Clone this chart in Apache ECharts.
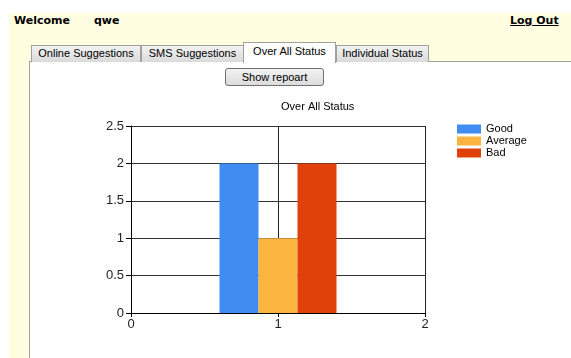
<!DOCTYPE html>
<html>
<head>
<meta charset="utf-8">
<script src="https://cdn.jsdelivr.net/npm/echarts@6/dist/echarts.min.js"></script>
<style>
  body { margin: 0; width: 571px; height: 358px; overflow: hidden; background: #fff; position: relative; font-family: "Liberation Sans", Arial, sans-serif; }
  .page { position: absolute; left: 9px; top: 13px; width: 562px; height: 345px; background: #fffee0; }
  .welcome { position: absolute; top: 14px; font: bold 11px "DejaVu Sans", Verdana, sans-serif; color: #000; }
  .logout { position: absolute; left: 510px; top: 14px; font: bold 11px "DejaVu Sans", Verdana, sans-serif; color: #000; text-decoration: underline; }
  .panel { position: absolute; left: 29px; top: 61px; width: 542px; height: 297px; background: #fff; border-left: 1px solid #a0a0a0; border-top: 1px solid #a0a0a0; box-sizing: border-box; }
  .tab { position: absolute; top: 45px; height: 17px; box-sizing: border-box; border: 1px solid #a0a0a0; border-bottom: none; background: linear-gradient(#f2f2f2, #dadada); font-size: 11px; line-height: 15px; text-align: center; color: #000; }
  .tab.sel { top: 42px; height: 21px; background: #fff; line-height: 17px; z-index: 2; }
  .btn { position: absolute; left: 225px; top: 68px; width: 99px; height: 18px; box-sizing: border-box; border: 1px solid #707070; border-radius: 3px; background: linear-gradient(#f2f2f2, #dcdcdc); font-size: 11px; line-height: 16px; text-align: center; }
  #chart { position: absolute; left: 30px; top: 62px; width: 541px; height: 296px; }
</style>
</head>
<body>
<div class="page"></div>
<div class="welcome" style="left:14px">Welcome</div>
<div class="welcome" style="left:94px">qwe</div>
<div class="logout">Log Out</div>
<div class="panel"></div>
<div class="tab" style="left:31px;width:110px">Online Suggestions</div>
<div class="tab" style="left:141px;width:103px">SMS Suggestions</div>
<div class="tab sel" style="left:243px;width:93px">Over All Status</div>
<div class="tab" style="left:336px;width:93px">Individual Status</div>
<div class="btn">Show repoart</div>
<div id="chart"></div>
<script>
// 图表数据
const statusNames = ['Good', 'Average', 'Bad']
const statusValues = [2, 1, 2]
const statusColors = ['#418cf0', '#fcb441', '#e0400a']
const xPosition = 1

const myChart = echarts.init(document.getElementById('chart'))
const font = '"Liberation Sans", Arial, sans-serif'
const option = {
  animation: false,
  title: {
    text: 'Over All Status',
    left: 246,
    top: 34,
    textStyle: { fontSize: 11, fontWeight: 'normal', color: '#000', fontFamily: font }
  },
  legend: {
    orient: 'vertical',
    left: 422,
    top: 56,
    icon: 'rect',
    itemWidth: 24,
    itemHeight: 9,
    itemGap: 0,
    data: statusNames,
    textStyle: { fontSize: 11, lineHeight: 12, color: '#000', fontFamily: font }
  },
  grid: { left: 101, top: 64, width: 294, height: 187 },
  xAxis: {
    type: 'value',
    min: 0,
    max: 2,
    interval: 1,
    axisLine: { show: true, lineStyle: { color: '#000', width: 1 } },
    axisTick: { show: true, length: 4, lineStyle: { color: '#000' } },
    axisLabel: { fontSize: 13, color: '#222', margin: 5, fontFamily: font },
    splitLine: { show: true, lineStyle: { color: '#222', width: 1 } }
  },
  yAxis: {
    type: 'value',
    min: 0,
    max: 2.5,
    interval: 0.5,
    axisLine: { show: true, lineStyle: { color: '#000', width: 1 } },
    axisTick: { show: true, length: 5, lineStyle: { color: '#000' } },
    axisLabel: { fontSize: 13, color: '#222', margin: 7, fontFamily: font },
    splitLine: { show: true, lineStyle: { color: '#333', width: 1 } }
  },
  series: statusNames.map((name, i) => ({
    name: name,
    type: 'bar',
    barWidth: 39,
    barGap: '0%',
    itemStyle: { color: statusColors[i] },
    data: [[xPosition, statusValues[i]]]
  }))
}
myChart.setOption(option)
</script>
</body>
</html>
